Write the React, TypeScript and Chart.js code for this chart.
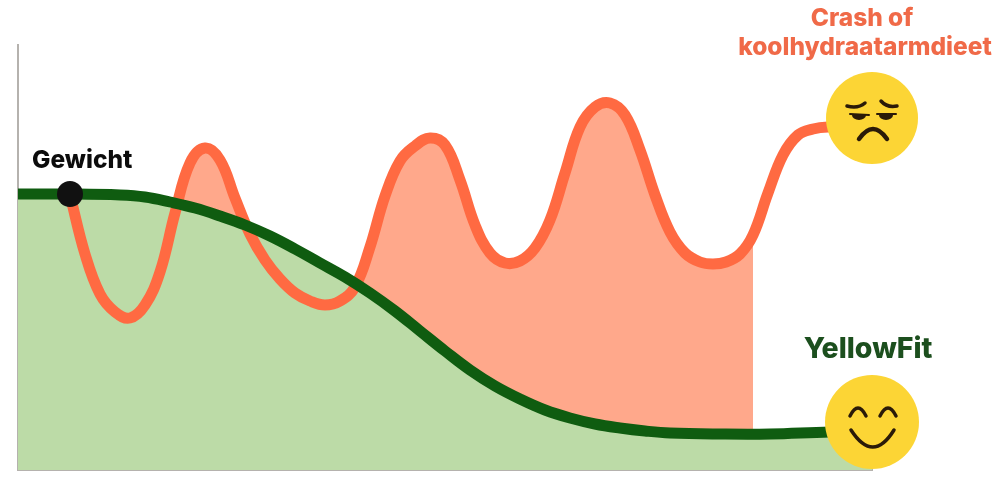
import React, { useEffect, useRef } from "react";
import { Chart, registerables } from "chart.js";

Chart.register(...registerables);

// Time-like horizontal units and weight-like vertical units.
const dietTime = [52, 67, 82, 97, 112, 127, 142, 157, 172, 187, 202, 217, 232, 247, 262, 277, 292, 307, 322, 337, 352, 367, 382, 397, 412, 427, 442, 457, 472, 487, 502, 517, 532, 547, 562, 577, 592, 607, 622, 637, 652, 667, 682, 695, 708, 722, 735, 750, 765, 780, 795, 810, 854];
const dietWeight = [275, 216, 176, 158, 152, 165, 198, 257, 307, 322, 310, 272, 236, 210, 191, 177, 169, 165, 169, 183, 223, 274, 309, 324, 332, 325, 290, 245, 217, 207, 209, 222, 250, 297, 343, 363, 367, 355, 320, 275, 238, 217, 208, 206, 208, 216, 235, 277, 315, 335, 341, 343, 343];

const dietFillTime = dietTime.filter((t) => t <= 735);
const dietFillWeight = dietWeight.slice(0, dietFillTime.length);

const yellowFitTime = [0, 52, 102, 127, 152, 177, 202, 227, 252, 277, 302, 327, 352, 377, 402, 427, 452, 477, 502, 527, 552, 577, 602, 627, 652, 702, 752, 812, 854];
const yellowFitWeight = [276, 276, 275, 273, 268, 262, 254, 245, 234, 221, 207, 193, 177, 159, 139, 119, 100, 84, 71, 60, 52, 46, 42, 39, 37, 36, 36, 38, 38];

const startPoint = [{ x: 52, y: 276 }];
const sadFace = [{ x: 854, y: 352 }];
const happyFace = [{ x: 854, y: 48 }];

const startLabel = "Gewicht";
const crashLabel = ["Crash of", "koolhydraatarmdieet"];
const fitLabel = "YellowFit";

const zip = (xs: number[], ys: number[]) => xs.map((x, i) => ({ x, y: ys[i] }));

const ink = "#2a1a08";

const annotations = {
  id: "annotations",
  afterDatasetsDraw(chart: any) {
    const { ctx, scales } = chart;
    const px = (v: number) => scales.x.getPixelForValue(v);
    const py = (v: number) => scales.y.getPixelForValue(v);

    ctx.save();
    ctx.textBaseline = "middle";
    ctx.textAlign = "left";
    ctx.fillStyle = "#0c0c0c";
    ctx.font = '800 24.5px Inter, "Liberation Sans", sans-serif';
    ctx.fillText(startLabel, 32, 161);

    ctx.textAlign = "center";
    ctx.fillStyle = "#f06a48";
    ctx.font = '800 24.5px Inter, "Liberation Sans", sans-serif';
    ctx.fillText(crashLabel[0], 862, 19);
    ctx.fillText(crashLabel[1], 865, 48);

    ctx.fillStyle = "#1c4f1e";
    ctx.font = '800 28.5px Inter, "Liberation Sans", sans-serif';
    ctx.fillText(fitLabel, 868, 349);

    // Sad face details
    let cx = px(sadFace[0].x);
    let cy = py(sadFace[0].y);
    ctx.strokeStyle = ink;
    ctx.fillStyle = ink;
    ctx.lineCap = "round";
    ctx.lineWidth = 3.5;
    ctx.beginPath();
    ctx.moveTo(cx - 25, cy - 12);
    ctx.quadraticCurveTo(cx - 14, cy - 9, cx - 7, cy - 15);
    ctx.stroke();
    ctx.beginPath();
    ctx.moveTo(cx + 9, cy - 17);
    ctx.quadraticCurveTo(cx + 15, cy - 10, cx + 25, cy - 12);
    ctx.stroke();
    ctx.lineWidth = 2;
    ctx.beginPath();
    ctx.moveTo(cx - 22, cy - 4);
    ctx.lineTo(cx - 3, cy - 3);
    ctx.stroke();
    ctx.beginPath();
    ctx.moveTo(cx + 5, cy - 4);
    ctx.lineTo(cx + 24, cy - 4);
    ctx.stroke();
    ctx.beginPath();
    ctx.ellipse(cx - 13, cy - 3, 7, 5, 0, 0, Math.PI);
    ctx.fill();
    ctx.beginPath();
    ctx.ellipse(cx + 14, cy - 3, 7, 5, 0, 0, Math.PI);
    ctx.fill();
    ctx.lineWidth = 4.5;
    ctx.beginPath();
    ctx.moveTo(cx - 13, cy + 21);
    ctx.quadraticCurveTo(cx + 1, cy + 1, cx + 15, cy + 21);
    ctx.stroke();

    // Happy face details
    cx = px(happyFace[0].x);
    cy = py(happyFace[0].y);
    ctx.lineWidth = 3.5;
    ctx.beginPath();
    ctx.moveTo(cx - 22, cy - 6);
    ctx.quadraticCurveTo(cx - 14, cy - 22, cx - 6, cy - 6);
    ctx.stroke();
    ctx.beginPath();
    ctx.moveTo(cx + 8, cy - 6);
    ctx.quadraticCurveTo(cx + 16, cy - 22, cx + 24, cy - 6);
    ctx.stroke();
    ctx.beginPath();
    ctx.moveTo(cx - 21, cy + 8);
    ctx.quadraticCurveTo(cx + 1, cy + 42, cx + 22, cy + 8);
    ctx.stroke();
    ctx.restore();
  },
};

export default function App() {
  const ref = useRef<HTMLCanvasElement>(null);

  useEffect(() => {
    document.body.style.margin = "0";
    document.body.style.background = "#ffffff";
    const lineBase = { pointRadius: 0, tension: 0.4, clip: false };
    const chart = new Chart(ref.current!, {
      type: "line",
      data: {
        datasets: [
          {
            label: "Crash fill",
            data: zip(dietFillTime, dietFillWeight),
            ...lineBase,
            borderWidth: 0,
            borderColor: "transparent",
            backgroundColor: "#ffa88b",
            fill: "origin",
            order: 6,
          },
          {
            label: "YellowFit fill",
            data: zip(yellowFitTime, yellowFitWeight),
            ...lineBase,
            borderWidth: 0,
            borderColor: "transparent",
            backgroundColor: "#bcdba7",
            fill: "origin",
            order: 5,
          },
          {
            label: "Crash",
            data: zip(dietTime, dietWeight),
            ...lineBase,
            borderWidth: 11,
            borderColor: "#ff6a42",
            borderCapStyle: "round",
            fill: false,
            order: 4,
          },
          {
            label: "YellowFit",
            data: zip(yellowFitTime, yellowFitWeight),
            ...lineBase,
            borderWidth: 11,
            borderColor: "#0f5c10",
            fill: false,
            order: 3,
          },
          {
            label: "Start",
            data: startPoint,
            showLine: false,
            pointRadius: 13,
            pointBackgroundColor: "#111111",
            pointBorderWidth: 0,
            clip: false,
            order: 2,
          },
          {
            label: "Sad",
            data: sadFace,
            showLine: false,
            pointRadius: 46,
            pointBackgroundColor: "#fcd535",
            pointBorderWidth: 0,
            clip: false,
            order: 1,
          },
          {
            label: "Happy",
            data: happyFace,
            showLine: false,
            pointRadius: 47,
            pointBackgroundColor: "#fcd535",
            pointBorderWidth: 0,
            clip: false,
            order: 1,
          },
        ],
      } as any,
      options: {
        animation: false,
        responsive: false,
        layout: { autoPadding: false, padding: { left: 18, right: 128, top: 45, bottom: 15 } },
        plugins: { legend: { display: false }, tooltip: { enabled: false } },
        events: [],
        scales: {
          x: {
            type: "linear",
            min: 0,
            max: 854,
            grid: { display: false },
            ticks: { display: false },
            border: { display: true, color: "#b5b2ae", width: 2 },
            afterFit: (s: any) => {
              s.height = 0;
            },
          },
          y: {
            min: 0,
            max: 425,
            grid: { display: false },
            ticks: { display: false },
            border: { display: true, color: "#b5b2ae", width: 2 },
            afterFit: (s: any) => {
              s.width = 0;
            },
          },
        },
      } as any,
      plugins: [annotations],
    });
    return () => chart.destroy();
  }, []);

  return <canvas ref={ref} width={1000} height={485} style={{ display: "block" }} />;
}
